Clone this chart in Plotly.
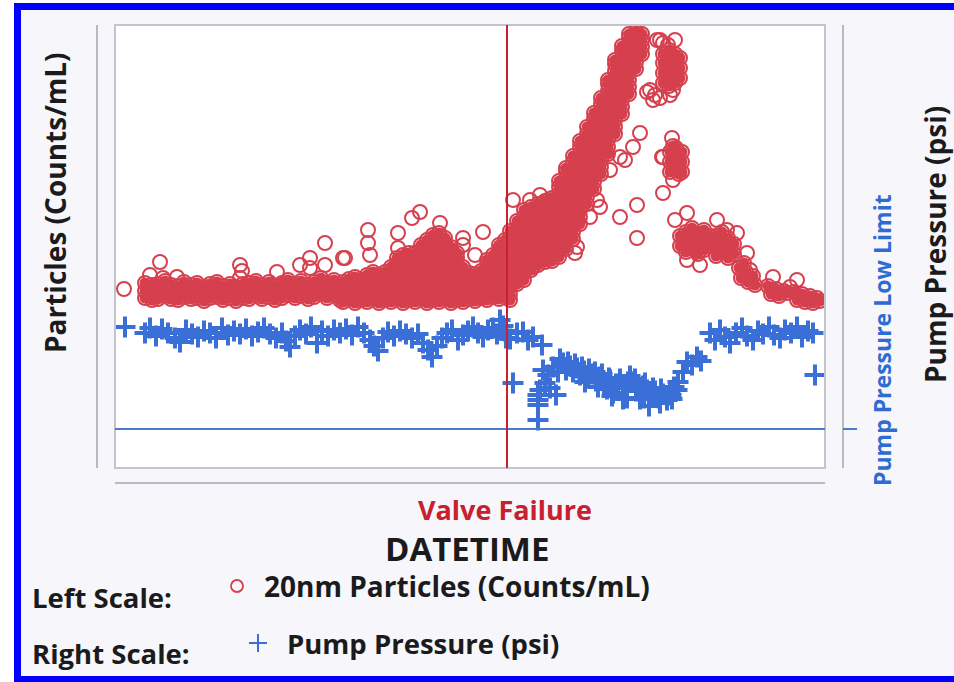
import plotly.graph_objects as go

# ---------------- DATA (x = minutes from start, particles = counts/mL, pressure = psi) -------------
# dense baseline of particle counts (column x positions + values per column)
red_a_cols = [30, 37, 43, 50, 56, 63, 69, 76, 82, 89, 95, 102, 108, 115, 121, 128, 134, 141, 147, 154,
              160, 167, 173, 180, 186, 193, 199, 206, 212, 219, 225]
red_a_vals = [[170, 177, 185], [168, 176, 183], [169, 177, 184], [172, 180, 187], [169, 177, 183],
              [168, 175, 182], [171, 179, 186], [169, 176, 183], [170, 178, 185], [167, 174, 181],
              [170, 177, 184], [171, 178, 186], [168, 175, 182], [170, 177, 184], [167, 174, 181],
              [170, 177, 184], [169, 177, 185], [172, 180, 187], [169, 176, 183], [171, 179, 186],
              [168, 175, 182], [170, 178, 185], [173, 181, 188], [170, 177, 184], [172, 180, 187],
              [169, 176, 183], [171, 179, 186], [174, 182, 190], [170, 178, 185], [173, 181, 188],
              [168, 176]]

red_b_cols = [228, 234, 240, 246, 252, 258, 264, 270, 276, 282, 288, 294, 300, 306, 312, 318, 324, 330,
              336, 342, 348, 354, 360, 366, 372, 378, 384, 390]
red_b_vals = [[166, 173, 180, 186], [169, 176, 183, 189], [165, 172, 179, 186, 191], [168, 175, 182, 188],
              [166, 173, 180, 187, 193], [169, 176, 183, 190, 196], [165, 172, 179, 186, 193],
              [168, 175, 182, 189, 196], [166, 173, 180, 187, 194, 201],
              [169, 176, 183, 190, 197, 204, 210], [165, 172, 179, 186, 193, 200, 207, 213],
              [168, 175, 182, 189, 196, 203, 210, 215], [166, 173, 180, 187, 194, 201, 208, 215],
              [169, 176, 183, 190, 197, 204, 211, 218, 223], [165, 172, 179, 186, 193, 200, 207, 214, 221, 228],
              [168, 175, 182, 189, 196, 203, 210, 217, 224, 233],
              [166, 173, 180, 187, 194, 201, 208, 215, 222, 229, 235],
              [169, 176, 183, 190, 197, 204, 211, 218, 225, 230], [165, 172, 179, 186, 193, 200, 207, 214, 221],
              [168, 175, 182, 189, 196, 203, 210, 215], [166, 173, 180, 187, 194, 201],
              [169, 176, 183, 190, 195], [167, 174, 181, 188, 194], [170, 177, 184, 191, 197],
              [168, 175, 182, 189, 196, 203, 208], [171, 178, 185, 192, 199, 206, 213],
              [169, 176, 183, 190, 197, 204, 211, 218, 223], [172, 179, 186, 193, 200, 207, 214, 221, 228]]

red_c_cols = [395, 402, 409, 416, 423, 430, 437, 444, 451, 458, 465, 472, 479, 486, 493, 500, 507, 514,
              521, 527]
red_c_vals = [[168, 174, 181, 188, 195, 202, 209, 216, 223, 230, 237],
              [184, 191, 198, 205, 212, 219, 226, 233, 240, 247],
              [188, 195, 202, 209, 216, 223, 230, 237, 244, 251, 258],
              [198, 205, 212, 219, 226, 233, 240, 247, 254, 261],
              [203, 210, 217, 224, 231, 238, 245, 252, 259, 264],
              [206, 213, 220, 227, 234, 241, 248, 255, 262, 267],
              [207, 214, 221, 228, 235, 242, 249, 256, 263, 270],
              [211, 218, 225, 232, 239, 246, 253, 260, 267, 274, 281, 287],
              [219, 226, 233, 240, 247, 254, 261, 268, 275, 282, 289, 296, 300],
              [229, 236, 243, 250, 257, 264, 271, 278, 285, 292, 299, 306, 312],
              [244, 251, 258, 265, 272, 279, 286, 293, 300, 307, 314, 321, 327],
              [264, 271, 278, 285, 292, 299, 306, 313, 320, 327, 334, 341],
              [279, 286, 293, 300, 307, 314, 321, 328, 335, 342, 349, 355],
              [294, 301, 308, 315, 322, 329, 336, 343, 350, 357, 364, 370],
              [314, 321, 328, 335, 342, 349, 356, 363, 370, 377, 384, 388],
              [334, 341, 348, 355, 362, 369, 376, 383, 390, 397, 404, 408],
              [354, 361, 368, 375, 382, 389, 396, 403, 410, 417, 422],
              [374, 381, 388, 395, 402, 409, 416, 423, 430, 434],
              [399, 406, 413, 420, 427, 434, 437],
              [414, 421, 428, 434]]

red_d_x = [548, 548, 548, 548, 554, 554, 554, 554, 554, 560, 560, 560, 560, 565, 565, 565,
           555, 555, 555, 561, 561, 561, 567, 567, 567, 558, 564,
           565, 565, 571, 571, 571, 577, 577, 577, 583, 583, 583, 589, 589, 589, 595, 595,
           601, 601, 601, 607, 607, 607, 613, 613, 613, 619, 619,
           624, 626, 631, 633, 638, 640, 629,
           653, 656, 661, 664, 669, 672,
           679, 682, 687, 690, 695, 698, 702, 705]
red_d_v = [385, 395, 405, 414, 382, 391, 400, 409, 418, 385, 395, 405, 414, 390, 400, 410,
           296, 306, 316, 300, 310, 320, 296, 306, 316, 322, 294,
           222, 232, 216, 226, 236, 220, 230, 240, 214, 224, 234, 218, 228, 238, 222, 232,
           212, 222, 232, 216, 226, 236, 210, 220, 230, 214, 224,
           200, 190, 196, 186, 192, 183, 205,
           182, 174, 179, 172, 177, 175,
           176, 168, 174, 166, 172, 165, 170, 167]

red_single_x = [9, 35, 45, 48, 62, 125, 125, 127, 162, 185, 195, 195, 210, 210, 228,
                253, 253, 255, 230, 283, 283, 297, 305, 325, 348, 348, 368, 360,
                398, 415, 425, 433, 525, 518, 505, 485, 482, 505, 522, 522, 548, 548, 532, 538, 542, 548,
                495, 510, 475, 462, 460, 418, 422,
                540, 545, 555, 558, 535, 545, 553, 560, 557, 558, 547, 560, 572, 602, 612, 622, 572,
                585, 632, 635, 658, 682, 675]
red_single_v = [179, 193, 206, 190, 191, 190, 203, 197, 196, 203, 200, 210, 203, 225, 210,
                238, 225, 213, 210, 235, 220, 250, 256, 245, 230, 223, 236, 213,
                268, 268, 273, 268, 335, 321, 311, 261, 268, 251, 263, 230, 275, 311, 376, 368, 428, 425,
                298, 308, 251, 221, 215, 201, 208,
                373, 370, 373, 378, 378, 428, 423, 428, 330, 288, 311, 248, 255, 248, 238, 235, 208,
                203, 215, 198, 191, 188, 181]

blue_x = [10, 30, 35, 41, 47, 53, 60, 65, 71, 77, 83, 89, 95, 101, 107, 113, 119, 125, 131, 137,
          143, 149, 155, 161, 167, 171, 175, 180, 185, 191, 196, 202, 207, 213, 219, 225, 231, 237, 243, 249,
          255, 259, 263, 268, 273, 279, 285, 291, 297, 303, 308, 313, 317, 322, 327, 332, 337, 343, 348, 353,
          358, 363, 368, 373, 378, 382, 385, 388, 390, 391, 395, 402, 408, 413, 418, 427,
          398, 423, 423, 423, 423, 425, 430, 433, 428, 435, 438, 441, 443, 448, 451, 455, 458, 462, 465, 469,
          473, 477, 481, 485, 489, 492, 495, 498, 501, 505, 508, 511, 515, 518, 521, 525, 528, 532, 536, 540,
          544, 548, 552, 556, 559, 563, 568, 572, 577, 582, 586, 595, 600, 605, 610, 615, 621, 627, 632, 638,
          643, 648, 654, 659, 665, 670, 676, 682, 687, 693, 698, 700,
          445, 453, 460, 467, 474, 480, 487, 494, 503, 513, 520, 530, 538, 546, 555, 562, 470, 483, 497, 512,
          529, 545, 557, 534]
blue_p = [14.1, 13.5, 14.0, 13.2, 13.9, 13.5, 13.0, 12.6, 13.8, 13.4, 13.1, 13.7, 13.5, 13.0, 14.0, 13.3,
          13.7, 13.4, 13.9, 13.2, 13.6, 14.0, 13.4, 13.0, 13.5, 12.7, 12.1, 13.2, 13.8, 13.4, 14.1, 12.5,
          13.7, 13.2, 13.8, 13.5, 13.9, 13.3, 14.1, 13.5, 12.8, 12.2, 11.7, 13.0, 13.6, 13.2, 13.7, 13.4,
          13.0, 13.4, 12.5, 11.8, 11.1, 12.2, 13.0, 13.5, 13.8, 12.8, 13.3, 13.7, 14.1, 13.5, 13.1, 13.8,
          14.0, 13.4, 14.8, 14.2, 13.7, 13.0, 12.9, 13.5, 13.6, 12.8, 13.1, 12.3,
          8.5, 7.3, 6.8, 6.3, 4.8, 7.8, 8.5, 9.3, 9.8, 8.0, 10.1, 7.3, 9.6, 10.5, 9.8, 10.2, 9.6, 10.0, 9.3,
          9.7, 9.0, 9.4, 8.7, 9.1, 8.4, 7.9, 8.8, 7.5, 8.4, 8.9, 6.9, 8.0, 9.2, 8.6, 7.7, 6.9, 8.2, 7.8, 7.3,
          7.7, 7.0, 7.4, 6.8, 7.3, 8.1, 8.6, 9.6, 10.6, 10.3, 11.1, 10.7, 13.5, 12.8, 13.8, 13.1, 12.5, 13.5,
          14.0, 13.2, 12.8, 13.7, 13.4, 14.1, 13.3, 13.0, 13.8, 13.5, 14.1, 13.1, 13.7, 13.5, 9.3,
          10.9, 10.6, 10.4, 10.1, 9.9, 9.6, 9.4, 9.0, 8.3, 8.6, 8.9, 8.5, 8.0, 7.9, 7.6, 7.8, 8.6, 8.1, 7.2, 7.0,
          7.0, 6.5, 6.9, 6.2]

valve_failure_x = 392
pressure_low_limit = 3.9
x_range = [0, 710]
particles_range = [0, 443]
pressure_range = [0, 44.3]

# ---------------- build tables ----------------
dense_x, dense_v = [], []
for cols, vals in ((red_a_cols, red_a_vals), (red_b_cols, red_b_vals), (red_c_cols, red_c_vals)):
    for cx, vs in zip(cols, vals):
        for v in vs:
            dense_x.append(cx)
            dense_v.append(v)
dense_x += red_d_x
dense_v += red_d_v
assert len(red_d_x) == len(red_d_v)
assert len(red_single_x) == len(red_single_v)
assert len(blue_x) == len(blue_p)
all_x = dense_x + red_single_x
all_v = dense_v + red_single_v

RED = "#D6404E"
BLUE = "#3A6FD8"
TXT = "#1B1B1B"
FONT = "Open Sans"

W, H = 954, 682
L, R, T, B = 115, 825, 25, 468


def px(xp):
    return (xp - L) / (R - L)


def py(yp):
    return (B - yp) / (B - T)


fig = go.Figure()
fig.add_trace(go.Scatter(x=dense_x, y=dense_v, mode="markers", hoverinfo="skip",
                         marker=dict(symbol="circle", size=11, color=RED)))
fig.add_trace(go.Scatter(x=all_x, y=all_v, mode="markers", name="20nm Particles (Counts/mL)",
                         marker=dict(symbol="circle-open", size=14, color=RED, line=dict(width=2, color=RED))))
fig.add_trace(go.Scatter(x=blue_x, y=blue_p, mode="markers", yaxis="y2", name="Pump Pressure (psi)",
                         marker=dict(symbol="cross-thin", size=15, color=BLUE,
                                     line=dict(width=4, color=BLUE))))

shapes = []
# white outside of blue frame
shapes.append(dict(type="rect", xref="paper", yref="paper", x0=px(0), x1=px(14), y0=py(682), y1=py(0),
                   fillcolor="white", line=dict(width=0), layer="below"))
shapes.append(dict(type="rect", xref="paper", yref="paper", x0=px(0), x1=px(954), y0=py(3), y1=py(0),
                   fillcolor="white", line=dict(width=0), layer="below"))
# lavender cover of the far right edge (inside the frame)
shapes.append(dict(type="rect", xref="paper", yref="paper", x0=px(944), x1=px(954), y0=py(676), y1=py(10),
                   fillcolor="#F6F6FB", line=dict(width=0)))
# blue frame (left, top, bottom) as filled bars
BF = "#0000FF"
shapes.append(dict(type="rect", xref="paper", yref="paper", x0=px(14), x1=px(21), y0=py(682), y1=py(3),
                   fillcolor=BF, line=dict(width=0)))
shapes.append(dict(type="rect", xref="paper", yref="paper", x0=px(14), x1=px(954), y0=py(10), y1=py(3),
                   fillcolor=BF, line=dict(width=0)))
shapes.append(dict(type="rect", xref="paper", yref="paper", x0=px(14), x1=px(954), y0=py(682), y1=py(676),
                   fillcolor=BF, line=dict(width=0)))
# plot frame
shapes.append(dict(type="rect", xref="paper", yref="paper", x0=0, x1=1, y0=0, y1=1,
                   line=dict(color="#C3C3CB", width=2)))
# axis lines
shapes.append(dict(type="line", xref="paper", yref="paper", x0=px(97), x1=px(97), y0=0, y1=1,
                   line=dict(color="#B9B9C1", width=2)))
shapes.append(dict(type="line", xref="paper", yref="paper", x0=px(843), x1=px(843), y0=0, y1=1,
                   line=dict(color="#B9B9C1", width=2)))
shapes.append(dict(type="line", xref="paper", yref="paper", x0=0, x1=1, y0=py(483), y1=py(483),
                   line=dict(color="#B9B9C1", width=2)))
# low limit line + right tick
shapes.append(dict(type="line", xref="paper", yref="y2", x0=0, x1=1, y0=pressure_low_limit,
                   y1=pressure_low_limit, line=dict(color="#4A7BCB", width=2)))
shapes.append(dict(type="line", xref="paper", yref="y2", x0=px(843), x1=px(857), y0=pressure_low_limit,
                   y1=pressure_low_limit, line=dict(color="#4A7BCB", width=2)))
# valve failure line
shapes.append(dict(type="line", xref="x", yref="paper", x0=valve_failure_x, x1=valve_failure_x, y0=0, y1=1,
                   line=dict(color="#C8202E", width=2)))
# legend symbols
shapes.append(dict(type="circle", xref="paper", yref="paper", x0=px(231), x1=px(243), y0=py(592), y1=py(580),
                   line=dict(color=RED, width=1.8)))
shapes.append(dict(type="line", xref="paper", yref="paper", x0=px(249), x1=px(267), y0=py(643), y1=py(643),
                   line=dict(color=BLUE, width=2)))
shapes.append(dict(type="line", xref="paper", yref="paper", x0=px(258), x1=px(258), y0=py(634), y1=py(652),
                   line=dict(color=BLUE, width=2)))


def ann(text, x, y, size, color=TXT, angle=0, xanchor="center"):
    return dict(text="<b>%s</b>" % text, x=px(x), y=py(y), xref="paper", yref="paper", showarrow=False,
                textangle=angle, xanchor=xanchor, yanchor="middle",
                font=dict(family=FONT, size=size, color=color))


annotations = [
    ann("Particles (Counts/mL)", 55, 203, 28, angle=-90),
    ann("Pump Pressure (psi)", 935, 245, 28, angle=-90),
    ann("Pump Pressure Low Limit", 882, 340, 23, color="#2E6BD3", angle=-90),
    ann("Valve Failure", 505, 510, 27, color="#C8202E"),
    ann("DATETIME", 467, 548, 33),
    ann("Left Scale:", 30, 597, 27.5, xanchor="left"),
    ann("20nm Particles (Counts/mL)", 262, 586, 28, xanchor="left"),
    ann("Right Scale:", 30, 653, 27.5, xanchor="left"),
    ann("Pump Pressure (psi)", 285, 643, 27.5, xanchor="left"),
]

fig.update_layout(
    width=W, height=H, autosize=False,
    margin=dict(l=L, r=W - R, t=T, b=H - B, pad=0),
    paper_bgcolor="#F6F6FB", plot_bgcolor="white", showlegend=False,
    xaxis=dict(range=x_range, visible=False, fixedrange=True),
    yaxis=dict(range=particles_range, visible=False, fixedrange=True),
    yaxis2=dict(range=pressure_range, overlaying="y", side="right", visible=False, fixedrange=True),
    shapes=shapes, annotations=annotations,
)

fig.write_html(
    "out.html",
    config={"displayModeBar": False},
    post_script="document.documentElement.style.overflow='hidden';document.body.style.overflow='hidden';"
                "document.body.style.margin='0';",
)
